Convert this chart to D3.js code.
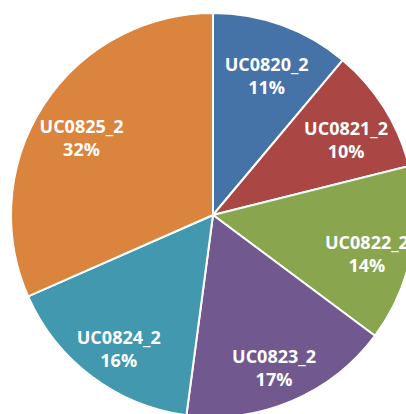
<!DOCTYPE html>
<html>
<head>
<meta charset="utf-8">
<script src="https://cdn.jsdelivr.net/npm/d3@7"></script>
<style>
html,body{margin:0;padding:0;background:#fff;overflow:hidden;}
svg{display:block;}
</style>
</head>
<body>
<svg id="chart" width="406" height="414"></svg>
<script>
const categories = ["UC0820_2","UC0821_2","UC0822_2","UC0823_2","UC0824_2","UC0825_2"];
const values = [11.1, 10.0, 14.1, 16.9, 16.3, 31.6];
const colors = ["#4572A7","#AA4643","#89A54E","#71588F","#4198AF","#DB843D"];

const W = 406, H = 414;
const cx = 213, cy = 215, R = 202;
const svg = d3.select("#chart");
const g = svg.append("g").attr("transform", `translate(${cx},${cy})`);

const data = categories.map((c, i) => ({name: c, value: values[i], color: colors[i]}));
const total = d3.sum(values);
const pie = d3.pie().value(d => d.value).sort(null);
const arcs = pie(data);
const arc = d3.arc().innerRadius(0).outerRadius(R);

g.selectAll("path.slice").data(arcs).enter().append("path")
  .attr("class","slice")
  .attr("d", arc)
  .attr("fill", d => d.data.color)
  .attr("stroke", "#fff")
  .attr("stroke-width", 2)
  .attr("stroke-linejoin", "round");

const labelArc = d3.arc().innerRadius(157).outerRadius(157);
const lab = g.selectAll("text.lbl").data(arcs).enter().append("text")
  .attr("class","lbl")
  .attr("text-anchor","middle")
  .attr("fill","#fff")
  .style("font-family","'Open Sans', sans-serif")
  .style("font-weight","bold")
  .style("font-size","18px")
  .attr("transform", d => { const c = labelArc.centroid(d); return `translate(${c[0]},${c[1] + 8.5})`; });
lab.append("tspan").attr("x",0).attr("y",-5).text(d => d.data.name);
lab.append("tspan").attr("x",0).attr("y",18).text(d => Math.round(d.data.value / total * 100) + "%");
</script>
</body>
</html>
